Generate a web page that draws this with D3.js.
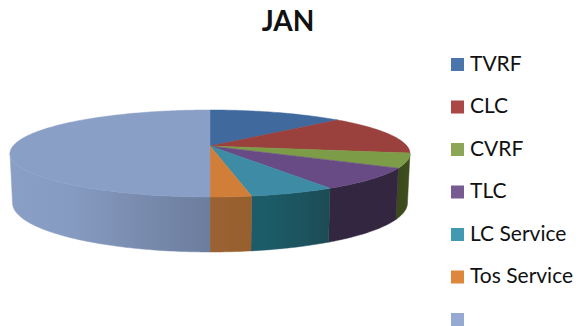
<!DOCTYPE html>
<html><head><meta charset="utf-8">
<script src="https://cdn.jsdelivr.net/npm/d3@7"></script>
<style>html,body{margin:0;padding:0;background:#fff;overflow:hidden}svg{display:block}text{font-family:Lato,"Open Sans",sans-serif;fill:#111}</style>
</head><body><svg id="c" width="583" height="326"></svg>
<script>
const title = "JAN";
const categories = ["TVRF","CLC","CVRF","TLC","LC Service","Tos Service",""];
const values = [12.9,14.7,5.4,8.3,5.9,2.8,50];
const topColors = ["#3f6b9e","#9a3f3c","#7d9c47","#684c85","#3d8ba5","#d17f38","#8a9fc6"];
const legendColors = ["#4a76ab","#ab4745","#8ba654","#775a91","#4299b2","#dd873d","#95aad3"];
const wallLeft = ["#2c4a6e","#6b2b29","#3a4a1e","#33253f","#1f5c68","#9a6230","#8a9fc6"];
const wallRight = ["#2c4a6e","#6b2b29","#3f4f20","#342640","#1e4c55","#965f2e","#6c7d9d"];

const W = 583, H = 326;
const svg = d3.select("#c").attr("viewBox",[0,0,W,H]);
const defs = svg.append("defs");
defs.append("filter").attr("id","soft").append("feGaussianBlur").attr("stdDeviation",0.5);

const k = 0.172;
// perspective projection of a unit circle angle to the screen
function project(a, level){
  const u = Math.sin(a), Y = -Math.cos(a), w = 1 - k*Y;
  return level === 0
    ? [210 + 197*u/w, 146 + 42.2*Y/w]
    : [210 + 194.5*u/w, 194.6 + 47.5*Y/w];
}
const arcs = d3.pie().sort(null).value(d=>d)(values);
const step = Math.PI/180;
const sample = (a0,a1)=>{
  const n = Math.max(2,Math.ceil((a1-a0)/step));
  return d3.range(n+1).map(i=>a0+(a1-a0)*i/n);
};
const line = d3.line();
const pie = svg.append("g").attr("filter","url(#soft)");

// walls
const visA = 99.9*step, visB = 260*step;
arcs.forEach((d,i)=>{
  const a0 = Math.max(d.startAngle,visA), a1 = Math.min(d.endAngle,visB);
  if(a1<=a0) return;
  const as = sample(a0,a1);
  const top = as.map(a=>project(a,0)), bot = as.map(a=>project(a,1)).reverse();
  const xs = top.map(p=>p[0]);
  const id = "w"+i;
  const g = defs.append("linearGradient").attr("id",id).attr("gradientUnits","userSpaceOnUse")
    .attr("x1",d3.min(xs)).attr("x2",d3.max(xs)).attr("y1",0).attr("y2",0);
  g.append("stop").attr("offset",0).attr("stop-color",wallLeft[i]);
  g.append("stop").attr("offset",0.3).attr("stop-color",d3.interpolateRgb(wallLeft[i],wallRight[i])(0.12));
  g.append("stop").attr("offset",1).attr("stop-color",wallRight[i]);
  pie.append("path").attr("d",line(top.concat(bot))+"Z").attr("fill","url(#"+id+")")
     .attr("stroke","url(#"+id+")").attr("stroke-width",0.5);
});
// top faces
arcs.forEach((d,i)=>{
  const pts = sample(d.startAngle,d.endAngle).map(a=>project(a,0));
  pie.append("path").attr("d",line([[210,146]].concat(pts))+"Z")
     .attr("fill",topColors[i]).attr("stroke",topColors[i]).attr("stroke-width",0.5);
});

svg.append("text").attr("x",288).attr("y",31).attr("text-anchor","middle")
   .style("font-weight",700).style("font-size","28px").text(title);

const ly = d3.scalePoint().domain(categories).range([64.5,319.5]);
const legend = svg.append("g").selectAll("g").data(categories).join("g")
  .attr("transform",d=>`translate(451,${ly(d)})`);
legend.append("rect").attr("x",0).attr("y",-6.5).attr("width",13).attr("height",13)
  .attr("fill",(d,i)=>legendColors[i]);
legend.append("text").attr("x",19).attr("y",6).style("font-size","21px").text(d=>d);
</script></body></html>
